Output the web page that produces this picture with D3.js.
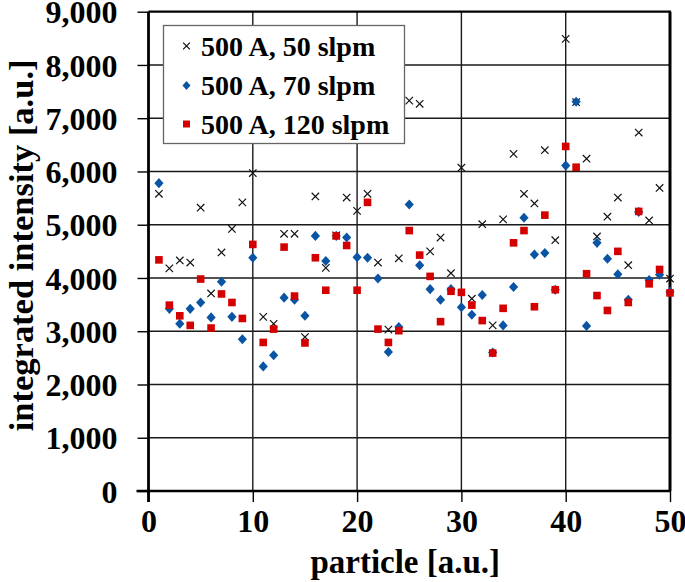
<!DOCTYPE html>
<html>
<head>
<meta charset="utf-8">
<script src="https://cdn.jsdelivr.net/npm/d3@7/dist/d3.min.js"></script>
<style>
html,body{margin:0;padding:0;background:#fff;}
svg{display:block;}
text{font-family:"Liberation Serif","Times New Roman",serif;font-weight:bold;fill:#000;}
</style>
</head>
<body>
<svg id="chart" width="685" height="582"></svg>
<script>
const particles = d3.range(1, 51);
const series50 = [5580,4180,4330,4290,5320,3710,4480,4920,5420,5970,3270,3140,4830,4830,2890,5530,4190,4800,5510,5260,5580,4290,3030,4370,7330,7270,4500,4760,4090,6070,3610,5010,3110,5100,6330,5580,5400,6400,4710,8490,7300,6240,4780,5150,5510,4240,6730,5080,5690,3990];
const series70 = [5780,3420,3140,3420,3540,3260,3930,3270,2850,4380,2340,2550,3630,3590,3290,4790,4320,4790,4760,4390,4380,3990,2610,3080,5380,4240,3790,3590,3790,3450,3310,3680,2600,3110,3830,5130,4440,4470,3780,6110,7310,3100,4660,4360,4070,3590,5240,3960,4060,3740];
const series120 = [4340,3490,3290,3110,3980,3060,3700,3540,3240,4630,2790,3040,4580,3660,2780,4380,3770,4790,4610,3770,5420,3040,2790,3010,4890,4430,4030,3180,3750,3730,3490,3200,2590,3430,4660,4890,3460,5180,3780,6470,6080,4080,3670,3390,4500,3540,5250,3890,4160,3720];
const seriesNames = ["500 A, 50 slpm", "500 A, 70 slpm", "500 A, 120 slpm"];
const xTicks = [0,10,20,30,40,50];
const yTicks = [0,1000,2000,3000,4000,5000,6000,7000,8000,9000];
const xTitle = "particle [a.u.]";
const yTitle = "integrated intensity [a.u.]";

const BLUE = "#0a55a3", RED = "#d40000";
const svg = d3.select("#chart");
const L = 148.5, R = 670, T = 11.7, B = 491;
const x = d3.scaleLinear().domain([0,50]).range([L,R]);
const y = d3.scaleLinear().domain([0,9000]).range([B,T]);

// gridlines
const g = svg.append("g");
g.selectAll(".gy").data(yTicks.filter(d=>d>0 && d<9000)).enter().append("line")
  .attr("x1",L).attr("x2",R).attr("y1",d=>y(d)).attr("y2",d=>y(d))
  .attr("stroke","#1a1a1a").attr("stroke-width",1.4);
g.selectAll(".gx").data(xTicks.filter(d=>d>0 && d<50)).enter().append("line")
  .attr("y1",T).attr("y2",B).attr("x1",d=>x(d)).attr("x2",d=>x(d))
  .attr("stroke","#1a1a1a").attr("stroke-width",1.4);

// frame top & right
svg.append("line").attr("x1",L).attr("x2",R+1).attr("y1",T).attr("y2",T).attr("stroke","#000").attr("stroke-width",2.2);
svg.append("line").attr("x1",R).attr("x2",R).attr("y1",T).attr("y2",B).attr("stroke","#000").attr("stroke-width",3);

// axes
const xAxis = d3.axisBottom(x).tickValues(xTicks).tickSize(11).tickPadding(18).tickFormat(d3.format("d"));
const gx = svg.append("g").attr("transform",`translate(0,${B})`).call(xAxis);
gx.select(".domain").attr("d",`M${L-12},0H${R}`).attr("stroke","#000").attr("stroke-width",2.6);
gx.selectAll(".tick line").attr("stroke","#000").attr("stroke-width",1.4);
gx.selectAll(".tick text").attr("font-size",32).attr("font-family","Liberation Serif").attr("font-weight","bold").attr("fill","#000").attr("dy","0.71em").attr("y",18);

const yAxis = d3.axisLeft(y).tickValues(yTicks).tickSize(11).tickPadding(20).tickFormat(d3.format(","));
const gy = svg.append("g").attr("transform",`translate(${L},0)`).call(yAxis);
gy.select(".domain").attr("d",`M0,${T}V${B+11}`).attr("stroke","#000").attr("stroke-width",2.8);
gy.selectAll(".tick line").attr("stroke","#000").attr("stroke-width",1.4);
gy.selectAll(".tick text").attr("font-size",32).attr("font-family","Liberation Serif").attr("font-weight","bold").attr("fill","#000").attr("dy","0.35em");

// axis titles
svg.append("text").attr("x",(L+R)/2 - 4).attr("y",573).attr("text-anchor","middle").attr("font-size",33).text(xTitle);
svg.append("text").attr("transform",`translate(33,${(T+B)/2 - 6}) rotate(-90)`).attr("text-anchor","middle").attr("font-size",34.5).text(yTitle);

// markers
function drawX(sel, s){ sel.append("path").attr("d",`M${-s},${-s}L${s},${s}M${-s},${s}L${s},${-s}`).attr("stroke","#111").attr("stroke-width",1.2).attr("fill","none"); }
function drawD(sel, s){ sel.append("path").attr("d",`M0,${-s*1.1}L${s},0L0,${s*1.1}L${-s},0Z`).attr("fill",BLUE); }
function drawS(sel, s){ sel.append("rect").attr("x",-s).attr("y",-s).attr("width",2*s).attr("height",2*s).attr("fill",RED); }

const pts = svg.append("g");
particles.forEach((p,i)=>{ drawX(pts.append("g").attr("transform",`translate(${x(p)},${y(series50[i])})`), 3.7); });
particles.forEach((p,i)=>{ drawD(pts.append("g").attr("transform",`translate(${x(p)},${y(series70[i])})`), 4.6); });
particles.forEach((p,i)=>{ drawS(pts.append("g").attr("transform",`translate(${x(p)},${y(series120[i])})`), 3.8); });

// legend
const lg = svg.append("g");
lg.append("rect").attr("x",163.5).attr("y",25.5).attr("width",241).attr("height",118).attr("fill","#fff").attr("stroke","#666").attr("stroke-width",1.3);
const rows = [46,85.5,124];
const drawers = [(s)=>drawX(s,3.4),(s)=>drawD(s,4),(s)=>drawS(s,3.5)];
seriesNames.forEach((n,i)=>{
  drawers[i](lg.append("g").attr("transform",`translate(186.5,${rows[i]})`));
  lg.append("text").attr("x",201).attr("y",rows[i]+9.5).attr("font-size",28).text(n);
});
</script>
</body>
</html>
